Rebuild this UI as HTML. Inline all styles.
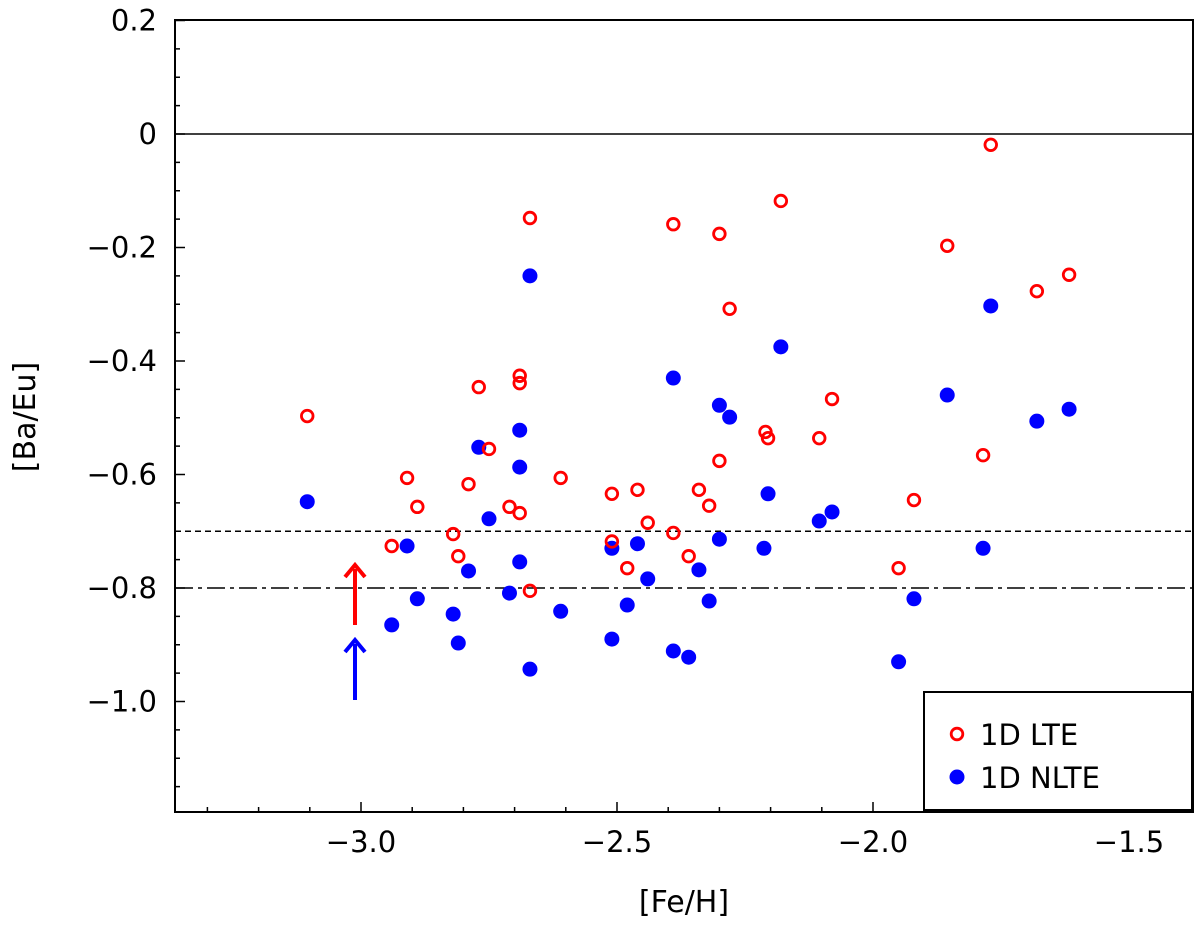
<!DOCTYPE html>
<html><head><meta charset="utf-8">
<style>
html,body{margin:0;padding:0;background:#fff;}
svg{display:block;font-family:"DejaVu Sans","Liberation Sans",sans-serif;}
</style></head>
<body>
<svg id="chart" width="1200" height="931" viewBox="0 0 1200 931" xmlns="http://www.w3.org/2000/svg">
<g id="grid"></g>
<g id="marks"></g>
<g id="axes"></g>
</svg>
<script>
const lteFe = [-3.105,-2.94,-2.91,-2.89,-2.82,-2.81,-2.79,-2.77,-2.75,-2.71,-2.69,-2.69,-2.69,-2.67,-2.67,-2.61,-2.51,-2.51,-2.48,-2.46,-2.44,-2.39,-2.39,-2.36,-2.34,-2.32,-2.30,-2.30,-2.28,-2.21,-2.205,-2.18,-2.105,-2.08,-1.95,-1.92,-1.855,-1.785,-1.77,-1.68,-1.617];
const lteBaEu = [-0.497,-0.726,-0.606,-0.657,-0.705,-0.744,-0.617,-0.446,-0.555,-0.657,-0.426,-0.439,-0.668,-0.148,-0.805,-0.606,-0.634,-0.718,-0.765,-0.627,-0.685,-0.159,-0.703,-0.744,-0.627,-0.655,-0.176,-0.576,-0.308,-0.525,-0.536,-0.118,-0.536,-0.467,-0.765,-0.645,-0.197,-0.566,-0.019,-0.277,-0.248];
const nlteFe = [-3.105,-2.94,-2.91,-2.89,-2.82,-2.81,-2.79,-2.77,-2.75,-2.71,-2.69,-2.69,-2.69,-2.67,-2.67,-2.61,-2.51,-2.51,-2.48,-2.46,-2.44,-2.39,-2.39,-2.36,-2.34,-2.32,-2.30,-2.30,-2.28,-2.213,-2.205,-2.18,-2.105,-2.08,-1.95,-1.92,-1.855,-1.785,-1.77,-1.68,-1.617];
const nlteBaEu = [-0.648,-0.865,-0.726,-0.819,-0.846,-0.897,-0.770,-0.552,-0.678,-0.809,-0.522,-0.587,-0.754,-0.250,-0.943,-0.841,-0.730,-0.890,-0.830,-0.722,-0.784,-0.430,-0.911,-0.922,-0.768,-0.823,-0.478,-0.714,-0.499,-0.730,-0.634,-0.375,-0.682,-0.666,-0.930,-0.819,-0.460,-0.730,-0.303,-0.506,-0.485];
const xTicks = [-3.0,-2.5,-2.0,-1.5];
const xTickLabels = ["\u22123.0","\u22122.5","\u22122.0","\u22121.5"];
const yTicks = [0.2,0,-0.2,-0.4,-0.6,-0.8,-1.0];
const yTickLabels = ["0.2","0","\u22120.2","\u22120.4","\u22120.6","\u22120.8","\u22121.0"];
const refLines = [0,-0.7,-0.8];

const L=175,R=1193,T=20,B=812;
const X=v=>361+(v+3)*512;
const Y=v=>134-v*567.5;
const NS="http://www.w3.org/2000/svg";
function mk(tag,attrs,parent){const e=document.createElementNS(NS,tag);for(const k in attrs)e.setAttribute(k,attrs[k]);parent.appendChild(e);return e;}
const grid=document.getElementById('grid'),marks=document.getElementById('marks'),axes=document.getElementById('axes');

const dashes=["none","6,4","18,5,4,5"];
const refNames=['zero-line','dashed-line-minus-0.7','dashdot-line-minus-0.8'];
refLines.forEach((v,i)=>{
  const l=mk('line',{x1:L,x2:R,y1:Y(v),y2:Y(v),stroke:'#000','stroke-width':1.5,'stroke-dasharray':dashes[i]},grid);
  
  
});

function arrow(x,y1,y2,col,name){
  const g=mk('g',{},marks);
  
  
  mk('line',{x1:x,x2:x,y1:y1,y2:y2+4,stroke:col,'stroke-width':4},g);
  mk('polyline',{points:`${x-10},${y2+12} ${x},${y2} ${x+10},${y2+12}`,fill:'none',stroke:col,'stroke-width':4},g);
}
arrow(355,625,565,'#f00','lte-limit-arrow');
arrow(355,700,640,'#00f','nlte-limit-arrow');

nlteFe.forEach((fe,i)=>{
  const c=mk('circle',{cx:X(fe),cy:Y(nlteBaEu[i]),r:7.5,fill:'#00f'},marks);
  
  
});
lteFe.forEach((fe,i)=>{
  const c=mk('circle',{cx:X(fe),cy:Y(lteBaEu[i]),r:5.8,fill:'none',stroke:'#f00','stroke-width':2.8},marks);
  
  
});

const fr=mk('rect',{x:L,y:T,width:R-L,height:B-T,fill:'none',stroke:'#000','stroke-width':2},axes);



for(let k=-33;k<=-14;k++){const v=k/10;const x=X(v);if(x<L||x>R)continue;
  const major=(k%5===0);
  mk('line',{x1:x,x2:x,y1:B,y2:B-(major?10:5),stroke:'#000','stroke-width':1.5},axes);}
xTicks.forEach((v,i)=>{
  const t=mk('text',{x:X(v),y:B+40,'font-size':29,'text-anchor':'middle'},axes);t.textContent=xTickLabels[i];
  
  
});
for(let k=-24;k<=4;k++){const v=k/20;const y=Y(v);if(y<T-1||y>B+1)continue;
  const major=(k%4===0);
  mk('line',{x1:L,x2:L+(major?10:5),y1:y,y2:y,stroke:'#000','stroke-width':1.5},axes);}
yTicks.forEach((v,i)=>{
  const t=mk('text',{x:L-18,y:Y(v)+10,'font-size':29,'text-anchor':'end'},axes);t.textContent=yTickLabels[i];
  
  
});
</script>
<script>
(function(){
const svg=document.getElementById('chart');const NS="http://www.w3.org/2000/svg";
function mk(tag,attrs,parent){const e=document.createElementNS(NS,tag);for(const k in attrs)e.setAttribute(k,attrs[k]);parent.appendChild(e);return e;}
const xl=mk('text',{x:684,y:912,'font-size':30,'text-anchor':'middle'},svg);xl.textContent='[Fe/H]';


const yl=mk('text',{x:0,y:0,'font-size':30,'text-anchor':'middle',transform:'translate(35,417) rotate(-90)'},svg);yl.textContent='[Ba/Eu]';


const lg=mk('g',{},svg);


mk('rect',{x:924,y:692,width:268,height:118,fill:'#fff',stroke:'#000','stroke-width':2},lg);
mk('circle',{cx:957,cy:734,r:5.8,fill:'none',stroke:'#f00','stroke-width':2.8},lg);
const t1=mk('text',{x:980,y:745,'font-size':29},lg);t1.textContent='1D LTE';


mk('circle',{cx:957,cy:777,r:7.5,fill:'#00f'},lg);
const t2=mk('text',{x:980,y:788,'font-size':29},lg);t2.textContent='1D NLTE';


})();
</script>
</body></html>
